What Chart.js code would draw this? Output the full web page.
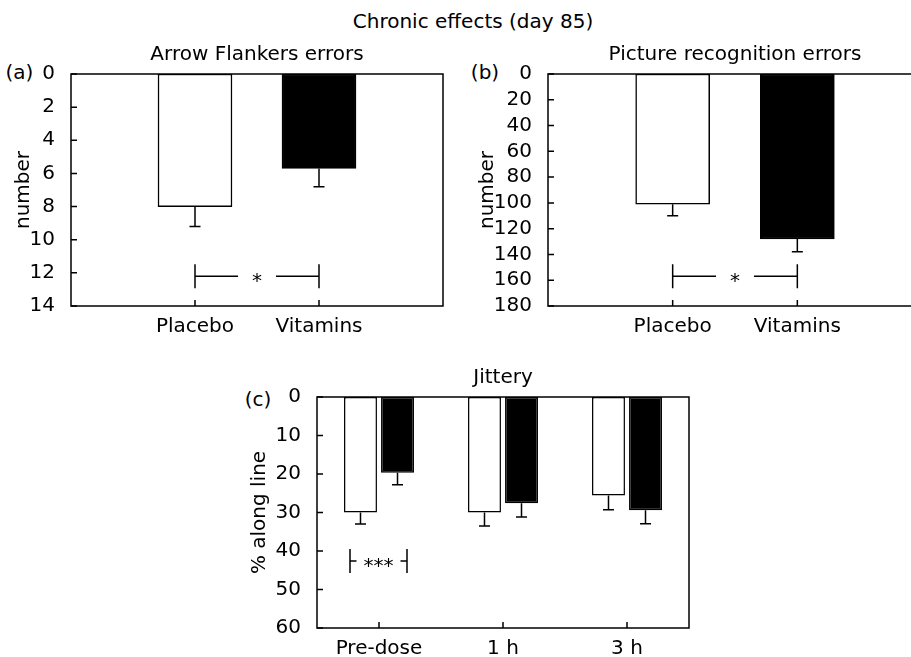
<!DOCTYPE html>
<html>
<head>
<meta charset="utf-8">
<script src="https://cdn.jsdelivr.net/npm/chart.js@4/dist/chart.umd.min.js"></script>
<style>
  html, body { margin: 0; padding: 0; background: #fff; overflow: hidden; }
  body { width: 911px; height: 657px; position: relative; font-family: 'DejaVu Sans', sans-serif; color: #000; }
  canvas { position: absolute; }
  .txt { position: absolute; font-size: 20px; line-height: 24px; white-space: nowrap; text-align: center; }
</style>
</head>
<body>
<div class="txt" style="left:273px; top:9px; width:400px;">Chronic effects (day 85)</div>
<div class="txt" style="left:1px; top:60px; width:37px;">(a)</div>
<div class="txt" style="left:465px; top:60px; width:40px;">(b)</div>
<div class="txt" style="left:238px; top:387px; width:40px;">(c)</div>

<canvas id="chart-a" width="460" height="345" style="left:0px; top:0px;"></canvas>
<canvas id="chart-b" width="480" height="345" style="left:460px; top:0px;"></canvas>
<canvas id="chart-c" width="480" height="330" style="left:230px; top:340px;"></canvas>

<script>
// Data
var armLabels = ['Placebo', 'Vitamins'];
var armFills = ['#ffffff', '#000000'];

var flankerErrors = [8.0, 5.7];
var flankerSem = [1.2, 1.1];
var flankerTicks = { min: 0, max: 14, step: 2 };

var pictureErrors = [101, 128];
var pictureSem = [9, 10];
var pictureTicks = { min: 0, max: 180, step: 20 };

var jitteryTimes = ['Pre-dose', '1 h', '3 h'];
var jitteryPlacebo = [30.0, 30.0, 25.6];
var jitteryPlaceboSem = [3.0, 3.5, 3.7];
var jitteryVitamins = [19.7, 27.6, 29.4];
var jitteryVitaminsSem = [3.1, 3.6, 3.5];
var jitteryTicks = { min: 0, max: 60, step: 10 };

Chart.defaults.font.family = "'DejaVu Sans', sans-serif";
Chart.defaults.font.size = 20;
Chart.defaults.color = '#000';

// Frame round the plot area, with inward tick marks
var framePlugin = {
  id: 'frame',
  afterDatasetsDraw: function(chart) {
    var ctx = chart.ctx, a = chart.chartArea;
    var xs = chart.scales.x, ys = chart.scales.y;
    ctx.save();
    ctx.strokeStyle = '#000';
    ctx.lineWidth = 1.5;
    ctx.strokeRect(a.left, a.top, a.right - a.left, a.bottom - a.top);
    ctx.beginPath();
    ys.ticks.forEach(function(t) {
      var py = ys.getPixelForValue(t.value);
      ctx.moveTo(a.left, py);
      ctx.lineTo(a.left + 6, py);
    });
    xs.ticks.forEach(function(t, i) {
      if (!xs.getLabelForValue(t.value)) return;
      var px = xs.getPixelForTick(i);
      ctx.moveTo(px, a.bottom);
      ctx.lineTo(px, a.bottom - 6);
    });
    ctx.stroke();
    ctx.restore();
  }
};

// Error bars hanging below each bar (axis is reversed)
var errorBarPlugin = {
  id: 'errorBars',
  afterDatasetsDraw: function(chart, args, opts) {
    var ctx = chart.ctx, ys = chart.scales.y;
    ctx.save();
    ctx.strokeStyle = '#000';
    ctx.lineWidth = 1.5;
    chart.data.datasets.forEach(function(ds, d) {
      var meta = chart.getDatasetMeta(d);
      var errs = opts.errors[d];
      meta.data.forEach(function(bar, j) {
        var v = ds.data[j];
        if (v === null || v === undefined) return;
        var y0 = ys.getPixelForValue(v);
        var y1 = ys.getPixelForValue(v + errs[j]);
        ctx.beginPath();
        ctx.moveTo(bar.x, y0);
        ctx.lineTo(bar.x, y1);
        ctx.moveTo(bar.x - 5.5, y1);
        ctx.lineTo(bar.x + 5.5, y1);
        ctx.stroke();
      });
    });
    ctx.restore();
  }
};

// Significance bracket: |---- * ----|
var bracketPlugin = {
  id: 'sigBracket',
  afterDatasetsDraw: function(chart, args, opts) {
    if (!opts || !opts.text) return;
    var ctx = chart.ctx, xs = chart.scales.x, ys = chart.scales.y;
    var x1 = xs.getPixelForValue(xs.getLabels().indexOf(opts.from)) + (opts.fromShift || 0);
    var x2 = xs.getPixelForValue(xs.getLabels().indexOf(opts.to)) + (opts.toShift || 0);
    var y = ys.getPixelForValue(opts.at);
    var mid = (x1 + x2) / 2;
    ctx.save();
    ctx.strokeStyle = '#000';
    ctx.lineWidth = 1.5;
    ctx.beginPath();
    ctx.moveTo(x1, y - 12); ctx.lineTo(x1, y + 12);
    ctx.moveTo(x2, y - 12); ctx.lineTo(x2, y + 12);
    ctx.moveTo(x1, y); ctx.lineTo(mid - opts.gap, y);
    ctx.moveTo(mid + opts.gap, y); ctx.lineTo(x2, y);
    ctx.stroke();
    ctx.fillStyle = '#000';
    ctx.font = "20px 'DejaVu Sans', sans-serif";
    ctx.textAlign = 'center';
    ctx.textBaseline = 'alphabetic';
    var m = ctx.measureText(opts.text);
    var base = y + 1 + (m.actualBoundingBoxAscent - m.actualBoundingBoxDescent) / 2;
    ctx.fillText(opts.text, mid, base);
    ctx.restore();
  }
};

function makeOptions(cfg) {
  return {
    responsive: false,
    animation: false,
    layout: { padding: { left: 0, right: cfg.padRight, top: 0, bottom: 0 } },
    plugins: {
      legend: { display: false },
      tooltip: { enabled: false },
      title: {
        display: true,
        text: cfg.title,
        fullSize: false,
        color: '#000',
        font: { size: 20, weight: 'normal' },
        padding: { top: cfg.titleTop, bottom: 7 }
      },
      errorBars: { errors: cfg.errors },
      sigBracket: cfg.bracket
    },
    scales: {
      x: {
        offset: cfg.offset,
        grid: { display: false },
        border: { display: false },
        ticks: { autoSkip: false, maxRotation: 0, padding: 1 },
        afterFit: function(scale) { scale.height = cfg.xHeight; }
      },
      y: {
        reverse: true,
        min: cfg.ticks.min,
        max: cfg.ticks.max,
        grid: { display: false },
        border: { display: false },
        ticks: { stepSize: cfg.ticks.step, padding: 8, autoSkip: false },
        title: { display: true, text: cfg.yTitle, padding: { top: cfg.yTitlePad, bottom: 0 }, font: { size: 20 } },
        afterFit: function(scale) { scale.width = cfg.yWidth; }
      }
    }
  };
}

// Panels (a) and (b): two bars on a three-slot axis
function makeArmChart(id, values, sems, ticks, title, layout) {
  var labels = [''].concat(armLabels, ['']);
  var data = [null].concat(values, [null]);
  var fills = ['#fff'].concat(armFills, ['#fff']);
  new Chart(document.getElementById(id), {
    type: 'bar',
    data: {
      labels: labels,
      datasets: [{
        data: data,
        backgroundColor: fills,
        borderColor: '#000',
        borderWidth: 1.5,
        borderSkipped: false,
        barThickness: 74
      }]
    },
    options: makeOptions({
      title: title,
      titleTop: 43,
      padRight: layout.padRight,
      yWidth: layout.yWidth,
      yTitle: 'number',
      yTitlePad: layout.yTitlePad,
      xHeight: 39,
      offset: false,
      ticks: ticks,
      errors: [[null].concat(sems, [null])],
      bracket: { from: armLabels[0], to: armLabels[1], at: layout.bracketAt, text: '*', gap: 19 }
    }),
    plugins: [framePlugin, errorBarPlugin, bracketPlugin]
  });
}

makeArmChart('chart-a', flankerErrors, flankerSem, flankerTicks, 'Arrow Flankers errors',
  { padRight: 17, yWidth: 71, yTitlePad: 11.5, bracketAt: 12.2 });
makeArmChart('chart-b', pictureErrors, pictureSem, pictureTicks, 'Picture recognition errors',
  { padRight: 18, yWidth: 88, yTitlePad: 15.5, bracketAt: 157 });

// Panel (c): grouped bars over time
new Chart(document.getElementById('chart-c'), {
  type: 'bar',
  data: {
    labels: jitteryTimes,
    datasets: [{
      label: armLabels[0],
      data: jitteryPlacebo,
      backgroundColor: armFills[0],
      borderColor: '#000',
      borderWidth: 1.5,
      borderSkipped: false,
      categoryPercentage: 0.597,
      barPercentage: 0.89
    }, {
      label: armLabels[1],
      data: jitteryVitamins,
      backgroundColor: armFills[1],
      borderColor: '#000',
      borderWidth: 1.5,
      borderSkipped: false,
      categoryPercentage: 0.597,
      barPercentage: 0.89
    }]
  },
  options: makeOptions({
    title: 'Jittery',
    titleTop: 26,
    padRight: 21,
    yWidth: 87,
    yTitle: '% along line',
    yTitlePad: 18,
    xHeight: 42,
    offset: true,
    ticks: jitteryTicks,
    errors: [jitteryPlaceboSem, jitteryVitaminsSem],
    bracket: { from: jitteryTimes[0], to: jitteryTimes[0], fromShift: -29, toShift: 28, at: 42.6, text: '***', gap: 22 }
  }),
  plugins: [framePlugin, errorBarPlugin, bracketPlugin]
});
</script>
</body>
</html>
